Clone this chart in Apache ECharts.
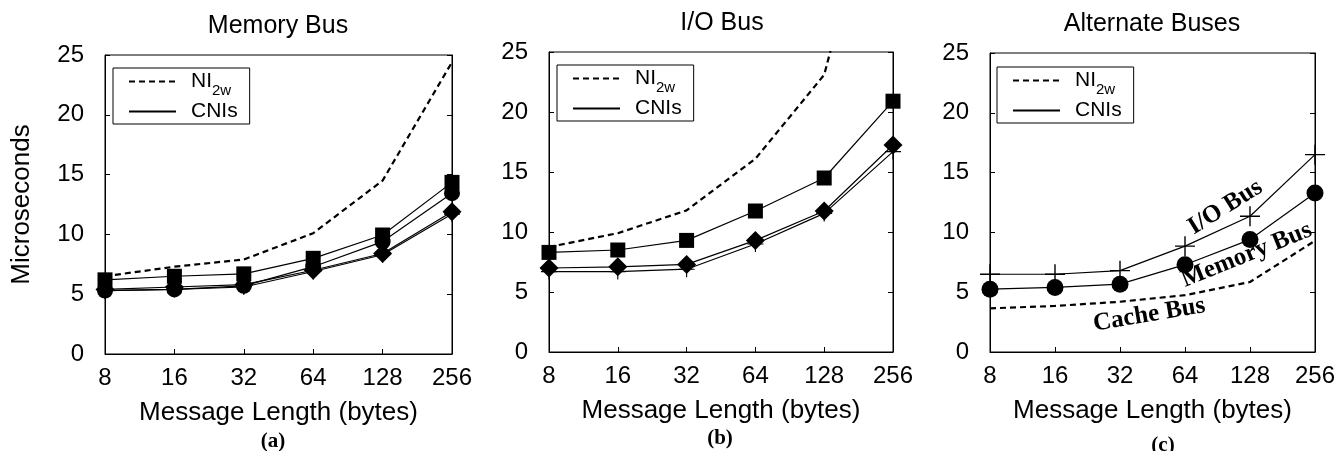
<!DOCTYPE html>
<html>
<head>
<meta charset="utf-8">
<script src="https://cdn.jsdelivr.net/npm/echarts@6/dist/echarts.min.js"></script>
<style>
html,body{margin:0;padding:0;background:#fff;}
#chart{width:1341px;height:451px;}
</style>
</head>
<body>
<div id="chart"></div>
<script>
// ---- data ----
const categories = ['8', '16', '32', '64', '128', '256'];
const yTicks = [0, 5, 10, 15, 20, 25];
const panelTitles = ['Memory Bus', 'I/O Bus', 'Alternate Buses'];
const panelCaptions = ['(a)', '(b)', '(c)'];

// (a) Memory Bus
const memNI2w    = [6.5, 7.3, 7.9, 10.1, 14.5, 24.4];
const memSquare  = [6.2, 6.5, 6.7, 8.0, 9.95, 14.35];
const memCircle  = [5.3, 5.4, 5.7, 7.3, 9.4, 13.45];
const memDiamond = [5.4, 5.6, 5.8, 7.0, 8.4, 11.9];
const memPlus    = [5.3, 5.4, 5.6, 6.9, 8.3, 11.7];

// (b) I/O Bus
const ioNI2w    = [8.75, 9.9, 11.8, 16.1, 23.1, 45];
const ioSquare  = [8.3, 8.5, 9.3, 11.75, 14.5, 20.9];
const ioDiamond = [7.0, 7.1, 7.3, 9.3, 11.75, 17.25];
const ioPlus    = [6.7, 6.7, 6.9, 9.0, 11.55, 16.7];

// (c) Alternate Buses
const altCacheNI2w = [3.65, 3.85, 4.2, 4.75, 5.85, 9.3];
const altMemCNI    = [5.25, 5.4, 5.67, 7.3, 9.4, 13.3];
const altIOCNI     = [6.5, 6.5, 6.8, 8.85, 11.35, 16.5];

// annotation anchors in data space: [fractional category index, value]
const annoText = ['I/O Bus', 'Memory Bus', 'Cache Bus'];
const annoAnchor = [[3.62, 12.1], [3.95, 8.1], [2.45, 3.1]];
const annoAngle = [32, 22, 9.5];

// ---- styling ----
const SANS = '"Liberation Sans", Arial, sans-serif';
const SERIF = '"Liberation Serif", "Times New Roman", serif';
const PLUS = 'path://M-1,-0.07H1V0.07H-1Z M-0.07,-1H0.07V1H-0.07Z';

const grids = [
  {left: 105, top: 55, width: 347, height: 299},
  {left: 549, top: 52, width: 344, height: 300},
  {left: 990, top: 53, width: 325, height: 299}
];

const chart = echarts.init(document.getElementById('chart'), null, {renderer: 'canvas'});

function xAxisFor(i) {
  return {
    type: 'category', gridIndex: i, data: categories, boundaryGap: false,
    axisLine: {lineStyle: {color: '#000', width: 1}},
    axisTick: {inside: true, length: 5, lineStyle: {color: '#000'}, alignWithLabel: true},
    axisLabel: {color: '#000', fontSize: 24, fontFamily: SANS, margin: 12},
    splitLine: {show: false},
    name: 'Message Length (bytes)', nameLocation: 'middle', nameGap: 46,
    nameTextStyle: {color: '#000', fontSize: 26, fontFamily: SANS}
  };
}
function yAxisFor(i, right) {
  const ax = {
    type: 'value', gridIndex: i, min: yTicks[0], max: yTicks[yTicks.length - 1], interval: 5,
    position: right ? 'right' : 'left',
    axisLine: {show: true, lineStyle: {color: '#000', width: 1}},
    axisTick: {show: true, inside: true, length: 5, lineStyle: {color: '#000'}},
    axisLabel: {show: !right, color: '#000', fontSize: 24, fontFamily: SANS, margin: 21},
    splitLine: {show: false}
  };
  if (!right && i === 0) {
    ax.name = 'Microseconds';
    ax.nameLocation = 'middle';
    ax.nameGap = 70;
    ax.nameTextStyle = {color: '#000', fontSize: 26, fontFamily: SANS};
  }
  return ax;
}

function dashed(name, data, xi, yi) {
  return {type: 'line', name: name, data: data, xAxisIndex: xi, yAxisIndex: yi,
    symbol: 'none', clip: true, silent: true,
    itemStyle: {color: '#000'},
    lineStyle: {color: '#000', width: 2.2, type: [6, 4]}, z: 2};
}
function solid(name, data, xi, yi, sym, size) {
  return {type: 'line', name: name, data: data, xAxisIndex: xi, yAxisIndex: yi,
    symbol: sym, symbolSize: size, showSymbol: true, clip: false, silent: true,
    lineStyle: {color: '#000', width: 1.2}, itemStyle: {color: '#000', opacity: 1}, z: 3};
}
function legendSample(name, xi, yi) {
  return {type: 'line', name: name, data: [], xAxisIndex: xi, yAxisIndex: yi,
    symbol: 'none', itemStyle: {color: '#000'}, lineStyle: {color: '#000', width: 1}};
}

const legendTop = [68, 65, 67];
const legendLeft = [113, 557, 997];
const legends = [0, 1, 2].map(i => ({
  left: legendLeft[i], top: legendTop[i], orient: 'vertical',
  data: ['NI2w', 'CNIs'], selectedMode: false,
  itemWidth: 47, itemHeight: 14, itemGap: 3,
  itemStyle: {color: 'rgba(0,0,0,0)', borderColor: 'rgba(0,0,0,0)', borderWidth: 0, opacity: 0},
  borderColor: '#000', borderWidth: 1, borderRadius: 0,
  padding: [3, 12, 2, 15], backgroundColor: '#fff',
  formatter: n => n === 'NI2w' ? '{n|NI}{s|2w}' : '{n|CNIs}',
  textStyle: {color: '#000', fontFamily: SANS, fontSize: 21, padding: [0, 0, 0, 10],
    rich: {
      n: {fontSize: 21, fontFamily: SANS, color: '#000', verticalAlign: 'bottom'},
      s: {fontSize: 15, fontFamily: SANS, color: '#000', verticalAlign: 'bottom', padding: [0, 0, -6, 0]}
    }}
}));

const titleCenters = [278, 722, 1152];
const titleTops = [14, 11, 12];
const captionTops = [431, 428, 435];
const captionCenters = [273, 720, 1163];

const titles = [];
for (let i = 0; i < 3; i++) {
  titles.push({text: panelTitles[i], left: titleCenters[i], top: titleTops[i], textAlign: 'center',
    padding: 0, textStyle: {color: '#000', fontFamily: SANS, fontWeight: 'normal', fontSize: 25}});
  titles.push({text: panelCaptions[i], left: captionCenters[i], top: captionTops[i], textAlign: 'center',
    padding: 0, textStyle: {color: '#000', fontFamily: SERIF, fontWeight: 'bold', fontSize: 21}});
}

const series = [
  // (a)
  dashed('NI2w', memNI2w, 0, 0),
  legendSample('CNIs', 0, 0),
  solid('CNI-a-plus', memPlus, 0, 0, PLUS, 16),
  solid('CNI-a-diamond', memDiamond, 0, 0, 'diamond', 19),
  solid('CNI-a-circle', memCircle, 0, 0, 'circle', 16),
  solid('CNI-a-square', memSquare, 0, 0, 'rect', 15),
  // (b)
  dashed('NI2w', ioNI2w, 1, 2),
  solid('CNI-b-plus', ioPlus, 1, 2, PLUS, 16),
  solid('CNI-b-diamond', ioDiamond, 1, 2, 'diamond', 19),
  solid('CNI-b-square', ioSquare, 1, 2, 'rect', 15),
  // (c)
  dashed('NI2w', altCacheNI2w, 2, 4),
  solid('CNI-c-mem', altMemCNI, 2, 4, 'circle', 17),
  solid('CNI-c-io', altIOCNI, 2, 4, PLUS, 20)
];

chart.setOption({
  backgroundColor: '#fff',
  animation: false,
  title: titles,
  legend: legends,
  grid: grids.map(g => Object.assign({containLabel: false, show: true, borderColor: '#000', borderWidth: 1, backgroundColor: 'transparent'}, g)),
  xAxis: [xAxisFor(0), xAxisFor(1), xAxisFor(2)],
  yAxis: [yAxisFor(0, false), yAxisFor(0, true), yAxisFor(1, false), yAxisFor(1, true), yAxisFor(2, false), yAxisFor(2, true)],
  series: series
});

// annotations in panel (c), anchored to data coordinates (category axis rounds, so interpolate)
function toPixel(ix, v) {
  const lo = Math.floor(ix), hi = Math.min(lo + 1, categories.length - 1), f = ix - lo;
  const a = chart.convertToPixel({xAxisIndex: 2, yAxisIndex: 4}, [lo, v]);
  const b = chart.convertToPixel({xAxisIndex: 2, yAxisIndex: 4}, [hi, v]);
  return [a[0] + (b[0] - a[0]) * f, a[1]];
}
const graphics = annoText.map((t, k) => {
  const p = toPixel(annoAnchor[k][0], annoAnchor[k][1]);
  return {
    type: 'text', x: p[0], y: p[1], rotation: annoAngle[k] * Math.PI / 180, z: 10,
    style: {text: t, fill: '#000', font: 'bold 25px ' + SERIF, align: 'center', verticalAlign: 'middle'}
  };
});
chart.setOption({graphic: graphics});
</script>
</body>
</html>
